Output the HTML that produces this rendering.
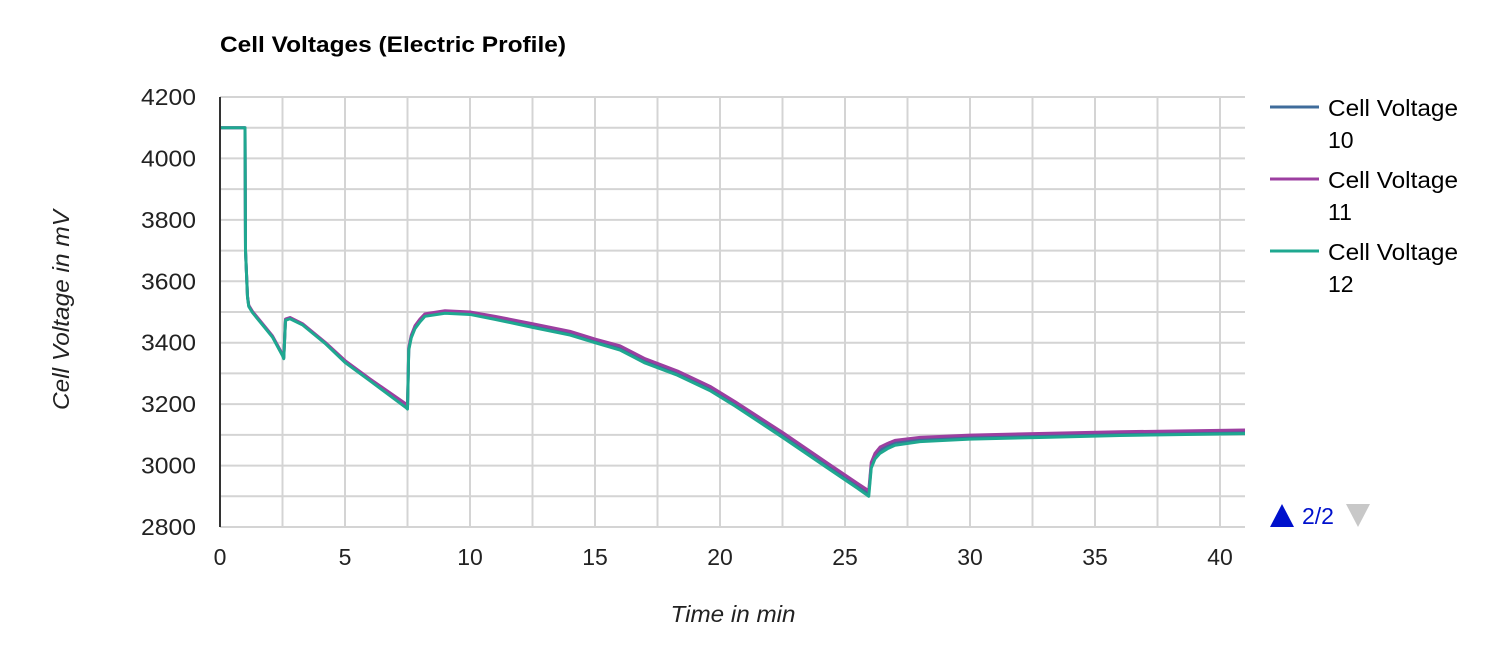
<!DOCTYPE html>
<html><head><meta charset="utf-8"><style>
body{margin:0;background:#fff;font-family:"Liberation Sans",Arial,sans-serif;}
svg text{font-family:"Liberation Sans",Arial,sans-serif;}
</style></head><body>
<svg id="chart" width="1505" height="643" xmlns="http://www.w3.org/2000/svg">
<text x="220" y="52" font-size="22" font-weight="bold" fill="#000" textLength="346" lengthAdjust="spacingAndGlyphs">Cell Voltages (Electric Profile)</text>
<g id="grid"></g>
<g id="series"></g>
<g id="axes"></g>
<text transform="translate(69,310) rotate(-90)" text-anchor="middle" font-size="23" font-style="italic" fill="#222" textLength="200" lengthAdjust="spacingAndGlyphs">Cell Voltage in mV</text>
<text x="733" y="622" text-anchor="middle" font-size="23" font-style="italic" fill="#222" textLength="125" lengthAdjust="spacingAndGlyphs">Time in min</text>
<g font-size="23" fill="#000">
<g><line x1="1270" y1="107" x2="1319" y2="107" stroke="#3f6c9b" stroke-width="3"/><text x="1328" y="116" textLength="130" lengthAdjust="spacingAndGlyphs">Cell Voltage</text><text x="1328" y="148">10</text></g>
<g><line x1="1270" y1="179" x2="1319" y2="179" stroke="#9c3fa0" stroke-width="3"/><text x="1328" y="188" textLength="130" lengthAdjust="spacingAndGlyphs">Cell Voltage</text><text x="1328" y="220">11</text></g>
<g><line x1="1270" y1="251" x2="1319" y2="251" stroke="#1fa890" stroke-width="3"/><text x="1328" y="260" textLength="130" lengthAdjust="spacingAndGlyphs">Cell Voltage</text><text x="1328" y="292">12</text></g>
</g>
<polygon points="1270,527 1294,527 1282,504" fill="#0011cc"/>
<text x="1302" y="524" font-size="23" fill="#0011cc">2/2</text>
<polygon points="1346,504 1370,504 1358,527" fill="#c8c8c8"/>
</svg>
<script>
const times = [0,1,1.02,1.1,1.15,1.3,1.8,2.1,2.5,2.55,2.62,2.8,3.3,4.2,5,6,7.45,7.5,7.55,7.65,7.8,8.0,8.2,9,10,11,12.5,14,15,16,17,18.3,19.6,20.6,22.5,24.3,25.5,25.95,26.05,26.2,26.4,26.7,27,28,30,33,36,41];
const cell10 = [4100,4100,3700,3550,3520,3500,3450,3420,3360,3350,3475,3480,3460,3400,3340,3280,3195,3190,3380,3420,3450,3472,3490,3500,3495,3480,3455,3430,3405,3382,3340,3300,3250,3200,3100,3000,2935,2910,3000,3030,3050,3064,3075,3085,3092,3098,3103,3108];
const cell11 = [4100,4100,3700,3552,3522,3502,3452,3422,3362,3352,3477,3482,3462,3402,3342,3282,3200,3196,3384,3424,3455,3477,3494,3504,3500,3486,3462,3437,3412,3390,3348,3308,3258,3208,3108,3008,2942,2918,3010,3040,3060,3072,3082,3092,3099,3105,3110,3116];
const cell12 = [4100,4100,3700,3548,3518,3498,3448,3418,3358,3348,3473,3478,3458,3398,3336,3276,3188,3184,3376,3416,3446,3468,3486,3496,3492,3476,3450,3425,3400,3376,3334,3294,3244,3194,3092,2992,2926,2900,2992,3022,3040,3055,3066,3078,3086,3092,3098,3104];
const xTicks = [0,5,10,15,20,25,30,35,40];
const yTicks = [2800,3000,3200,3400,3600,3800,4000,4200];
const X0=220,X1=1245,TMAX=41,Y0=527,Y1=97,VMIN=2800,VMAX=4200;
const xs=t=>X0+(t/TMAX)*(X1-X0);
const ys=v=>Y0-(v-VMIN)/(VMAX-VMIN)*(Y0-Y1);
const NS="http://www.w3.org/2000/svg";
function mk(tag,attrs,parent){const e=document.createElementNS(NS,tag);for(const k in attrs)e.setAttribute(k,attrs[k]);parent.appendChild(e);return e;}
const grid=document.getElementById('grid'),axes=document.getElementById('axes'),ser=document.getElementById('series');
for(let v=VMIN;v<=VMAX;v+=100){const l=mk('line',{x1:X0,x2:X1,y1:ys(v),y2:ys(v),stroke:'#d4d4d4','stroke-width':2},grid);

}
for(let t=2.5;t<=TMAX;t+=2.5){const l=mk('line',{x1:xs(t),x2:xs(t),y1:Y1,y2:Y0,stroke:'#d4d4d4','stroke-width':2},grid);

}
const ax=mk('line',{x1:X0,x2:X0,y1:Y1,y2:Y0,stroke:'#333','stroke-width':2},axes);


yTicks.forEach(v=>{const t=mk('text',{x:196,y:ys(v)+8,'text-anchor':'end','font-size':23,fill:'#222',textLength:55,lengthAdjust:'spacingAndGlyphs'},axes);t.textContent=v;

});
xTicks.forEach(v=>{const t=mk('text',{x:xs(v),y:565,'text-anchor':'middle','font-size':23,fill:'#222'},axes);t.textContent=v;

});
[[cell10,'#3f6c9b','line-cell-10'],[cell11,'#9c3fa0','line-cell-11'],[cell12,'#1fa890','line-cell-12']].forEach(([d,c,n])=>{
const p=mk('polyline',{points:times.map((t,i)=>xs(t)+','+ys(d[i])).join(' '),fill:'none',stroke:c,'stroke-width':3,'stroke-linejoin':'round'},ser);

});
</script>
</body></html>
